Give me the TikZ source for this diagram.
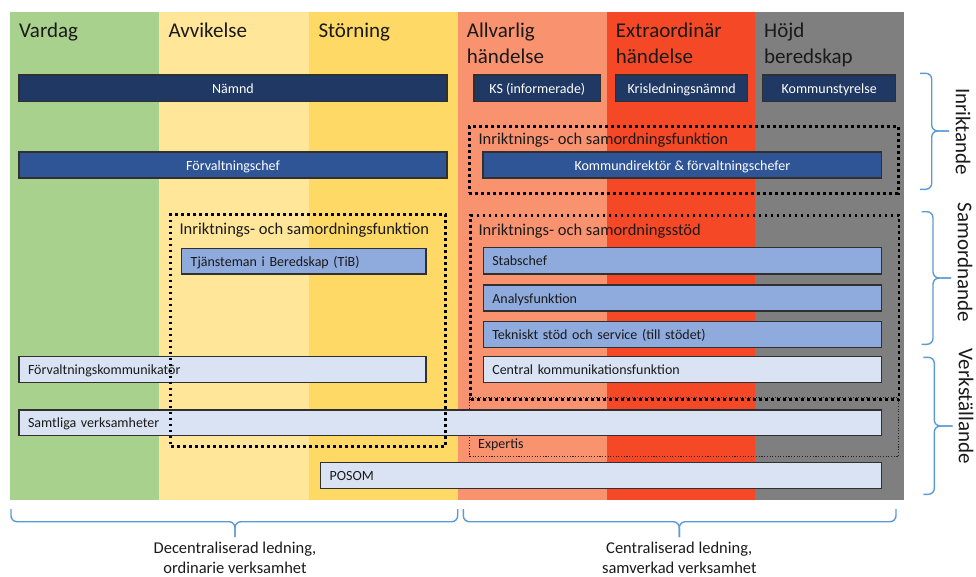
\documentclass[tikz,border=0pt]{standalone}
\usepackage{fontspec}
\setmainfont{Carlito}
\definecolor{cgreen}{HTML}{A9D18E}
\definecolor{cyel1}{HTML}{FFE699}
\definecolor{cyel2}{HTML}{FFD966}
\definecolor{csalmon}{HTML}{F9926F}
\definecolor{cred}{HTML}{F54826}
\definecolor{cgray}{HTML}{7F7F7F}
\definecolor{cnavy}{HTML}{203864}
\definecolor{cblue}{HTML}{2F5597}
\definecolor{clblue}{HTML}{8FAADC}
\definecolor{cpale}{HTML}{DAE3F3}
\definecolor{cbrace}{HTML}{5B9BD5}
\definecolor{ctext}{HTML}{1A1A1A}
\definecolor{cborder}{HTML}{303030}
\begin{document}
\begin{tikzpicture}[x=1pt,y=-1pt,
  hdr/.style={anchor=base west,inner sep=0pt,text=ctext,font=\fontsize{21}{26}\selectfont},
  boxbase/.style={draw=cborder,line width=1.1pt,inner xsep=9pt,inner ysep=0pt,
    text height=11.5pt,text depth=1.5pt,font=\fontsize{14}{17}\selectfont},
  navybox/.style={boxbase,fill=cnavy,text=white,align=center},
  bluebox/.style={boxbase,fill=cblue,text=white,align=center},
  lbbox/.style={boxbase,fill=clblue,text=ctext,align=left},
  palebox/.style={boxbase,fill=cpale,text=ctext,align=left},
  heavydot/.style={draw=black,line width=2.8pt,dash pattern=on 2.8pt off 3.2pt,inner sep=0pt,anchor=north west},
  thindot/.style={draw=black!85,line width=1.1pt,dash pattern=on 1.1pt off 1.6pt,inner sep=0pt,anchor=north west},
  grplabel/.style={anchor=base west,inner sep=0pt,text=ctext,font=\fontsize{16.5}{20}\selectfont},
  bracestyle/.style={draw=cbrace,line width=1.4pt,rounded corners=6pt},
  sidelabel/.style={rotate=-90,inner sep=0pt,text=ctext,font=\fontsize{21}{26}\selectfont},
  bottomlabel/.style={anchor=base,inner sep=0pt,text=ctext,font=\fontsize{16.5}{19.5}\selectfont}
]
\useasboundingbox (0,0) rectangle (976,576);
% columns
\fill[cgreen]  (10,12)    rectangle (159.3,500);
\fill[cyel1]   (159.3,12) rectangle (309,500);
\fill[cyel2]   (309,12)   rectangle (457.7,500);
\fill[csalmon] (457.7,12) rectangle (606.7,500);
\fill[cred]    (606.7,12) rectangle (755,500);
\fill[cgray]   (755,12)   rectangle (904,500);
% headers
\node[hdr] (hvardag) at (19,37) {Vardag};
\node[hdr] (havv) at (168.3,37) {Avvikelse};
\node[hdr] (hstor) at (318.3,37) {Störning};
\node[hdr] (hallv) at (466.7,37) {\begin{tabular}[t]{@{}l@{}}Allvarlig\\händelse\end{tabular}};
\node[hdr] (hextra) at (615.7,37) {\begin{tabular}[t]{@{}l@{}}Extraordinär\\händelse\end{tabular}};
\node[hdr] (hhojd) at (764,37) {\begin{tabular}[t]{@{}l@{}}Höjd\\beredskap\end{tabular}};
% expertis (thin dotted, below boxes)
\node[thindot,minimum width=428.7pt,minimum height=58.7pt] (expertis) at (469.3,397) {};
\node[anchor=base west,inner sep=0pt,text=ctext,font=\fontsize{14}{17}\selectfont] (expertislbl) at (478,448) {Expertis};
% top row
\node[navybox,minimum width=428pt,minimum height=26.7pt] (namnd) at (233,88.35) {Nämnd};
\node[navybox,minimum width=126.7pt,minimum height=26.7pt] (ks) at (537.35,88.35) {KS (informerade)};
\node[navybox,minimum width=132pt,minimum height=26.7pt] (krisl) at (681.7,88.35) {Krisledningsnämnd};
\node[navybox,minimum width=133pt,minimum height=26.7pt] (kstyr) at (829.2,88.35) {Kommunstyrelse};
% second row
\node[bluebox,minimum width=428pt,minimum height=26pt] (forvchef) at (233,165) {Förvaltningschef};
\node[bluebox,minimum width=398.7pt,minimum height=26pt] (komdir) at (682.35,165) {Kommundirektör \& förvaltningschefer};
% light blue
\node[lbbox,text width=226.3pt,minimum height=25.7pt] (tib) at (303.85,261.15) {Tjänsteman i Beredskap (TiB)};
\node[lbbox,text width=380.4pt,minimum height=26.3pt] (stab) at (682.5,260.85) {Stabschef};
\node[lbbox,text width=380.4pt,minimum height=26pt] (analys) at (682.5,298) {Analysfunktion};
\node[lbbox,text width=380.4pt,minimum height=26pt] (tekn) at (682.5,334.7) {Tekniskt stöd och service (till stödet)};
% pale
\node[palebox,text width=389pt,minimum height=26pt] (forvkomm) at (222.5,369.7) {Förvaltningskommunikatör};
\node[palebox,text width=380.4pt,minimum height=26pt] (central) at (682.5,369.7) {Central kommunikationsfunktion};
\node[palebox,text width=844.7pt,minimum height=25.7pt] (samtliga) at (450.35,422.85) {Samtliga verksamheter};
\node[palebox,text width=543pt,minimum height=26pt] (posom) at (601.2,475.3) {POSOM};
% heavy dotted groups
\node[heavydot,minimum width=428.7pt,minimum height=66.7pt] (grptop) at (468,125) {};
\node[grplabel] (grptoplbl) at (478.3,144) {Inriktnings- och samordningsfunktion};
\node[heavydot,minimum width=274.7pt,minimum height=231.7pt] (grpleft) at (169.3,213.3) {};
\node[grplabel] (grpleftlbl) at (179.3,234.3) {Inriktnings- och samordningsfunktion};
\node[heavydot,minimum width=428.2pt,minimum height=184.3pt] (grpright) at (469.3,214) {};
\node[grplabel] (grprightlbl) at (478.3,235) {Inriktnings- och samordningsstöd};
% right braces
\draw[bracestyle] (920,73.3) -- (931.7,73.3) -- (931.7,131) -- (949,131);
\draw[bracestyle] (920,189.3) -- (931.7,189.3) -- (931.7,131) -- (949,131);
\node[sidelabel] (inrikt) at (963,131.7) {Inriktande};
\draw[bracestyle] (921.5,211.7) -- (933,211.7) -- (933,278) -- (951,278);
\draw[bracestyle] (921.5,344.3) -- (933,344.3) -- (933,278) -- (951,278);
\node[sidelabel] (samord) at (965,262.5) {Samordnande};
\draw[bracestyle] (923.3,357.3) -- (934.3,357.3) -- (934.3,426) -- (952.7,426);
\draw[bracestyle] (923.3,494.3) -- (934.3,494.3) -- (934.3,426) -- (952.7,426);
\node[sidelabel] (verk) at (966,406.5) {Verkställande};
% bottom braces
\draw[bracestyle] (11,509) -- (11,521.7) -- (235,521.7) -- (235,537);
\draw[bracestyle] (457.7,509) -- (457.7,521.7) -- (235,521.7) -- (235,537);
\node[bottomlabel] (decent) at (235,553.5) {\begin{tabular}[t]{@{}c@{}}Decentraliserad ledning,\\ordinarie verksamhet\end{tabular}};
\draw[bracestyle] (463.3,509) -- (463.3,521.7) -- (679.3,521.7) -- (679.3,537);
\draw[bracestyle] (896,509) -- (896,521.7) -- (679.3,521.7) -- (679.3,537);
\node[bottomlabel] (cent) at (679.3,553.5) {\begin{tabular}[t]{@{}c@{}}Centraliserad ledning,\\samverkad verksamhet\end{tabular}};
\end{tikzpicture}
\end{document}
